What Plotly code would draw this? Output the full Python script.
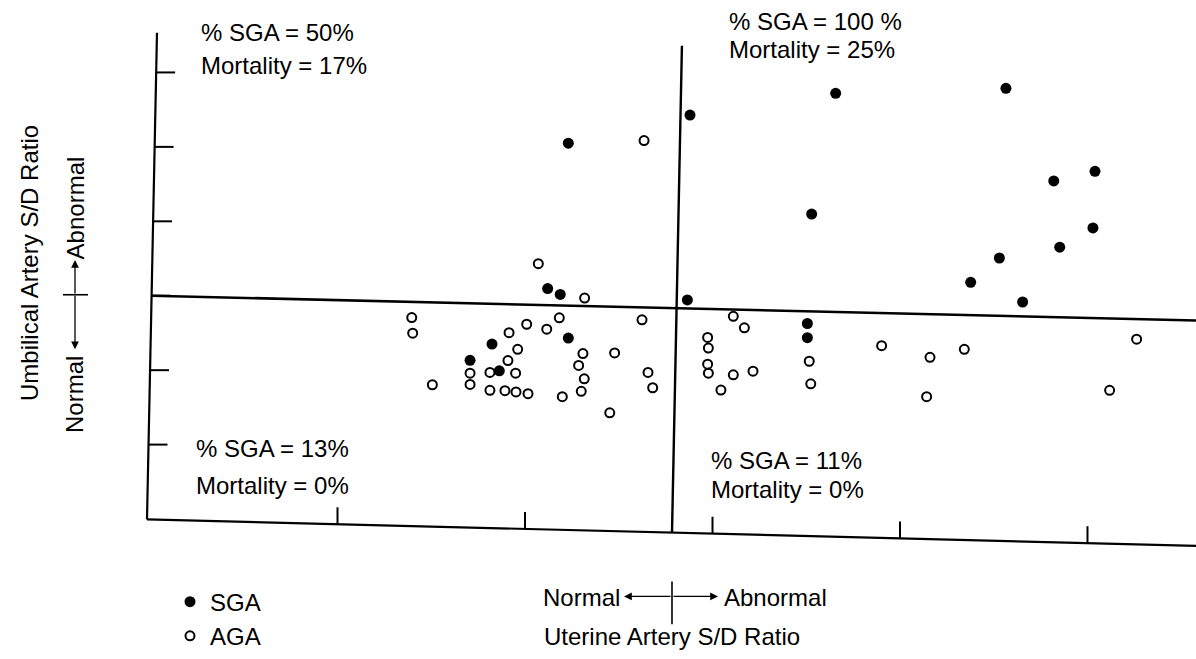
import plotly.graph_objects as go

# ---------------- data ----------------
# x: uterine artery S/D ratio (tick units), y: umbilical artery S/D ratio (tick units)
sga_x = [2.231, 2.880, 3.657, 3.529, 4.565, 4.820, 5.040, 5.029, 4.852, 4.530,
         4.377, 4.654, 2.866, 3.506, 3.506, 2.121, 2.188, 2.231, 1.824, 1.707, 1.863]
sga_y = [5.049, 5.427, 5.720, 4.097, 5.787, 4.543, 4.671, 3.911, 3.653, 3.507,
         3.180, 2.916, 2.943, 2.627, 2.436, 3.097, 3.017, 2.431, 2.351, 2.133, 1.991]

aga_x = [2.635, 2.071, 2.318,
         1.396, 1.401, 2.009, 2.183, 2.116, 1.915, 2.624, 1.961, 1.909, 2.309,
         2.478, 2.286, 2.316, 2.656, 2.681, 1.707, 1.813, 1.950, 1.506, 1.707,
         1.813, 1.893, 1.952, 2.016, 2.199, 2.300, 2.452,
         3.111, 3.170, 2.974, 2.978, 2.974, 2.978, 3.111, 3.216, 3.045, 3.516,
         3.524, 3.902, 4.160, 4.343, 4.142, 5.262, 5.118]
aga_y = [5.084, 3.431, 2.969,
         2.707, 2.497, 2.617, 2.703, 2.551, 2.503, 2.676, 2.280, 2.129, 2.223,
         2.231, 2.063, 1.884, 1.969, 1.764, 1.960, 1.969, 1.960, 1.804, 1.809,
         1.729, 1.724, 1.707, 1.684, 1.644, 1.716, 1.427,
         2.724, 2.569, 2.440, 2.297, 2.080, 1.960, 1.937, 1.987, 1.733, 2.120,
         1.817, 2.329, 2.173, 2.280, 1.644, 2.417, 1.729]

x_ticks = [1, 2, 3, 4, 5]
y_ticks = [1, 2, 3, 4, 5, 6]

quad_line1 = ["% SGA = 50%", "% SGA = 100 %", "% SGA = 13%", "% SGA = 11%"]
quad_line2 = ["Mortality = 17%", "Mortality = 25%", "Mortality = 0%", "Mortality = 0%"]

# ---------------- geometry of the (slightly skewed, scanned) frame ----------------
W, H = 1196, 659
X_RANGE = [-0.8, 5.5787]
Y_RANGE = [-1.8133, 6.9733]

yaxis_top = (0.0373, 6.533)
origin = (-0.016, -0.005)
xaxis_end = (5.579, -0.36)
hdiv = [(0.0107, 3.0), (5.579, 2.667)]
vdiv_top = (2.837, 6.36)


def xaxis_y(x):
    t = (x - origin[0]) / (xaxis_end[0] - origin[0])
    return origin[1] + t * (xaxis_end[1] - origin[1])


def yaxis_x(y):
    t = (y - origin[1]) / (yaxis_top[1] - origin[1])
    return origin[0] + t * (yaxis_top[0] - origin[0])


LC = "black"
shapes = []


def seg(x0, y0, x1, y1, w=2.2):
    shapes.append(dict(type="line", xref="x", yref="y", x0=x0, y0=y0, x1=x1, y1=y1,
                       line=dict(color=LC, width=w)))


seg(*yaxis_top, *origin)
seg(*origin, *xaxis_end)
seg(*hdiv[0], *hdiv[1], w=2.6)
vb_x = 2.784
seg(*vdiv_top, vb_x, xaxis_y(vb_x), w=2.4)
for yt in y_ticks:
    ax = yaxis_x(yt)
    seg(ax, yt, ax + 0.101, yt, w=2)
for xt in x_ticks:
    b = xaxis_y(xt)
    seg(xt, b, xt, b + 0.227, w=2)

FONT = "Liberation Sans, Arial, Helvetica, sans-serif"

fig = go.Figure()
fig.add_trace(go.Scatter(x=sga_x, y=sga_y, mode="markers", name="SGA",
                         marker=dict(symbol="circle", size=11, color="black")))
fig.add_trace(go.Scatter(x=aga_x, y=aga_y, mode="markers", name="AGA",
                         marker=dict(symbol="circle-open", size=9, color="black",
                                     line=dict(width=2, color="black"))))

ann = []


def txt(s, px, py, size=24, anchor="left", angle=0):
    ann.append(dict(text=s, x=px / W, y=1 - py / H, xref="paper", yref="paper",
                    xanchor=anchor, yanchor="middle", showarrow=False, textangle=angle,
                    font=dict(family=FONT, size=size, color="black")))


def arrow(hx, hy, tx, ty):
    ann.append(dict(text="", x=hx / W, y=1 - hy / H, xref="paper", yref="paper",
                    ax=tx - hx, ay=ty - hy, showarrow=True, arrowhead=2,
                    arrowsize=1.2, arrowwidth=1.3, arrowcolor="black"))


quad_pos = [(199, 33, 66), (727, 22, 50), (194, 452, 489), (709, 464, 493)]
for (px, py1, py2), l1, l2 in zip(quad_pos, quad_line1, quad_line2):
    txt(l1, px, py1)
    txt(l2, px, py2)

# x-axis label
txt("Normal", 541, 602)
txt("Abnormal", 722, 602)
arrow(624, 601, 672, 601)
arrow(718, 601, 672, 601)
txt("Uterine Artery S/D Ratio", 542, 641)

# y-axis label (rotated)
txt("Umbilical Artery S/D Ratio", 30, 265, anchor="center", angle=-90)
txt("Normal", 75, 398, anchor="center", angle=-90)
txt("Abnormal", 75, 210, anchor="center", angle=-90)
arrow(75, 262, 75, 297)
arrow(75, 352, 75, 297)

# small cross bars of the label arrows (paper coords)
shapes.append(dict(type="line", xref="paper", yref="paper", x0=672 / W, x1=672 / W,
                   y0=1 - 586 / H, y1=1 - 629 / H, line=dict(color=LC, width=1.6)))
shapes.append(dict(type="line", xref="paper", yref="paper", x0=63 / W, x1=88 / W,
                   y0=1 - 297 / H, y1=1 - 297 / H, line=dict(color=LC, width=1.6)))

fig.update_layout(
    width=W, height=H, margin=dict(l=0, r=0, t=0, b=0),
    paper_bgcolor="white", plot_bgcolor="white",
    xaxis=dict(range=X_RANGE, visible=False, fixedrange=True),
    yaxis=dict(range=Y_RANGE, visible=False, fixedrange=True),
    shapes=shapes, annotations=ann,
    showlegend=True,
    legend=dict(x=170 / W, y=1 - 584 / H, xanchor="left", yanchor="top",
                font=dict(family=FONT, size=24, color="black"),
                bgcolor="rgba(0,0,0,0)", tracegroupgap=0, itemwidth=30),
    font=dict(family=FONT),
)

fig.write_html("out.html", config={"displayModeBar": False},
               post_script="document.body.style.margin='0';document.body.style.overflow='hidden';")
